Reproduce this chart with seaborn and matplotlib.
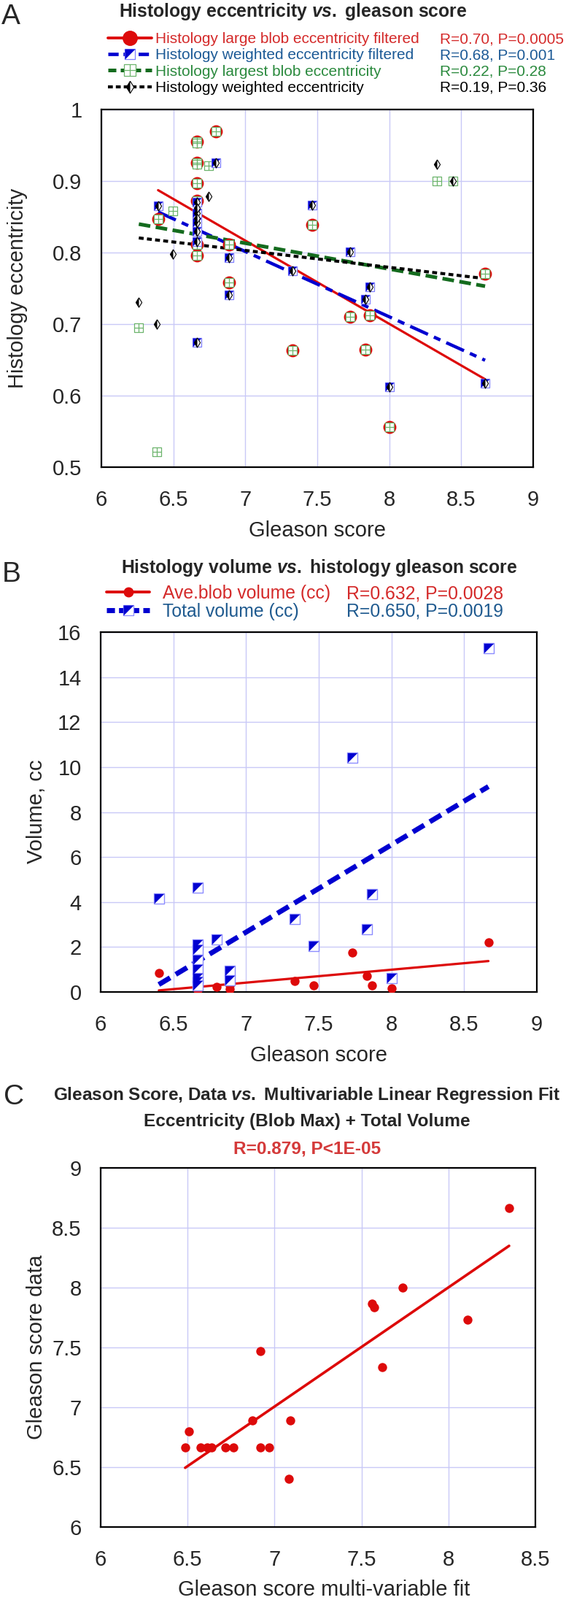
import numpy as np
import matplotlib
matplotlib.use("Agg")
import matplotlib.pyplot as plt
import matplotlib.ticker as mticker
from matplotlib.lines import Line2D
from matplotlib.legend_handler import HandlerTuple
import seaborn as sns

# ---- panel A: histology eccentricity vs gleason score ----
gleason_filt = [6.394, 6.663, 6.663, 6.663, 6.663, 6.663, 6.663, 6.794, 6.886, 6.886,
                7.33, 7.465, 7.73, 7.833, 7.865, 8.0, 8.666]
blob_ecc_filt = [0.847, 0.955, 0.925, 0.897, 0.872, 0.811, 0.796, 0.969, 0.811, 0.758,
                 0.663, 0.839, 0.710, 0.664, 0.712, 0.556, 0.770]
weighted_ecc_filt = [0.865, 0.870, 0.855, 0.842, 0.830, 0.815, 0.674, 0.925, 0.793, 0.741,
                     0.774, 0.866, 0.801, 0.735, 0.752, 0.612, 0.617]
# unfiltered sets: the filtered samples plus the ones the filter dropped
gleason_all = gleason_filt + [6.26, 6.383, 6.496, 6.746, 8.333, 8.443, 6.663, 6.663]
blob_ecc_all = blob_ecc_filt + [0.695, 0.521, 0.858, 0.921, 0.900, 0.900, 0.953, 0.923]
weighted_ecc_all = weighted_ecc_filt + [0.731, 0.700, 0.798, 0.879, 0.923, 0.900, 0.862, 0.848]
labels_a = ["Histology large blob eccentricity filtered",
            "Histology weighted eccentricity filtered",
            "Histology largest blob eccentricity",
            "Histology weighted eccentricity"]
stats_a = ["R=0.70, P=0.0005", "R=0.68, P=0.001", "R=0.22, P=0.28", "R=0.19, P=0.36"]

# ---- panel B: volume vs gleason score ----
gleason_b = [6.4, 6.667, 6.667, 6.667, 6.667, 6.667, 6.667, 6.667, 6.667, 6.8,
             6.889, 6.889, 7.333, 7.467, 7.733, 7.833, 7.867, 8.0, 8.667]
total_vol = [4.14, 4.63, 2.12, 1.88, 1.42, 1.0, 0.62, 0.45, 0.3, 2.34,
             0.95, 0.52, 3.25, 2.03, 10.41, 2.79, 4.36, 0.63, 15.29]
ave_blob_vol = [0.84, 0.09, 0.15, 0.2, 0.25, 0.3, 0.2, 0.25, 0.23, 0.22,
                0.14, 0.3, 0.5, 0.3, 1.76, 0.73, 0.3, 0.17, 2.22]
labels_b = ["Ave.blob volume (cc)", "Total volume (cc)"]
stats_b = ["R=0.632, P=0.0028", "R=0.650, P=0.0019"]

# ---- panel C: gleason data vs multivariable fit ----
fit_c = [6.486, 6.509, 6.576, 6.612, 6.639, 6.717, 6.765, 6.874, 6.917, 6.919,
         6.968, 7.090, 7.083, 7.56, 7.574, 7.621, 7.736, 8.11, 8.349]
data_c = [6.667, 6.8, 6.667, 6.667, 6.667, 6.667, 6.667, 6.889, 7.467, 6.667,
          6.667, 6.889, 6.4, 7.867, 7.833, 7.333, 8.0, 7.733, 8.667]

sns.set_style("white")
plt.rcParams["font.family"] = ["Liberation Sans", "DejaVu Sans"]
plt.rcParams["mathtext.fontset"] = "custom"
plt.rcParams["mathtext.it"] = "Liberation Sans:italic:bold"
plt.rcParams["mathtext.rm"] = "Liberation Sans:bold"

W, H = 776, 2192
fig = plt.figure(figsize=(W / 100, H / 100), dpi=100)


def ftext(px, py, s, **kw):
    return fig.text(px / W, 1 - py / H, s, **kw)


def make_ax(left, right, top, bottom):
    ax = fig.add_axes([left / W, 1 - bottom / H, (right - left) / W, (bottom - top) / H])
    ax.grid(True, color="#c9c9f7", lw=1.0)
    ax.set_axisbelow(True)
    for sp in ax.spines.values():
        sp.set_color("black")
        sp.set_linewidth(1.6)
    ax.tick_params(axis="both", direction="out", length=8, width=1.1, labelsize=21,
                   color="black")
    ax.tick_params(axis="x", pad=14)
    ax.tick_params(axis="y", pad=11)
    ax.xaxis.set_major_formatter(mticker.FormatStrFormatter("%g"))
    ax.yaxis.set_major_formatter(mticker.FormatStrFormatter("%g"))
    return ax


def two_col_legend(ax, handles, labels, stats, colors, x_hand, x_stat, top, size,
                   hlen, hpad, lspace):
    common = dict(loc="upper left", bbox_transform=fig.transFigure, frameon=False,
                  fontsize=size, labelspacing=lspace, borderpad=0, borderaxespad=0)
    leg = ax.legend(handles, labels, handler_map={tuple: HandlerTuple(ndivide=1)},
                    bbox_to_anchor=(x_hand / W, 1 - top / H),
                    handlelength=hlen, handletextpad=hpad, **common)
    for t, c in zip(leg.get_texts(), colors):
        t.set_color(c)
    ax.add_artist(leg)
    blanks = [Line2D([], [], alpha=0) for _ in stats]
    leg2 = ax.legend(blanks, stats, bbox_to_anchor=(x_stat / W, 1 - top / H),
                     handlelength=0, handletextpad=0, **common)
    for t, c in zip(leg2.get_texts(), colors):
        t.set_color(c)
    return leg, leg2


SQ = [(-1, -1), (1, -1), (1, 1), (-1, 1), (-1, -1)]
TRI_UL = [(-1, -1), (-1, 1), (1, 1), (-1, -1)]
DIAM = [(0, 1), (0.62, 0), (0, -1), (-0.62, 0), (0, 1)]
DIAM_L = [(0, 1), (-0.62, 0), (0, -1), (0, 1)]

RED = "#dd0a0a"
BLUE = "#0000d0"
GREEN = "#146b1e"
LGREEN = "#6cb46c"

# ================= panel A =================
axA = make_ax(139, 731, 150, 640)
sns.regplot(x=np.array(gleason_filt), y=np.array(blob_ecc_filt), ax=axA, scatter=False, ci=None,
            line_kws=dict(color=RED, lw=2.3, zorder=2))
sns.regplot(x=np.array(gleason_filt), y=np.array(weighted_ecc_filt), ax=axA, scatter=False, ci=None,
            line_kws=dict(color=BLUE, lw=3.2, dashes=(6, 2, 2.2, 2), zorder=2))
sns.regplot(x=np.array(gleason_all), y=np.array(blob_ecc_all), ax=axA, scatter=False, ci=None,
            line_kws=dict(color=GREEN, lw=3.6, dashes=(3.2, 1.5), zorder=2))
sns.regplot(x=np.array(gleason_all), y=np.array(weighted_ecc_all), ax=axA, scatter=False, ci=None,
            line_kws=dict(color="black", lw=3.0, dashes=(1.6, 1.1), zorder=2))

sns.scatterplot(x=gleason_filt, y=blob_ecc_filt, ax=axA, marker="o", s=165, color=RED,
                edgecolor=RED, linewidth=0, zorder=3)
sns.scatterplot(x=gleason_all, y=blob_ecc_all, ax=axA, marker="s", s=80, color="white",
                edgecolor=LGREEN, linewidth=0.9, zorder=4)
sns.scatterplot(x=gleason_all, y=blob_ecc_all, ax=axA, marker="+", s=80, color=LGREEN,
                linewidth=0.9, zorder=4)
sns.scatterplot(x=gleason_filt, y=weighted_ecc_filt, ax=axA, marker=SQ, s=70, color="white",
                edgecolor="#7f7fff", linewidth=0.9, zorder=5)
sns.scatterplot(x=gleason_filt, y=weighted_ecc_filt, ax=axA, marker=TRI_UL, s=70, color=BLUE,
                edgecolor=BLUE, linewidth=0, zorder=5)
sns.scatterplot(x=gleason_all, y=weighted_ecc_all, ax=axA, marker=DIAM, s=90, color="white",
                edgecolor="black", linewidth=0.8, zorder=6)
sns.scatterplot(x=gleason_all, y=weighted_ecc_all, ax=axA, marker=DIAM_L, s=90, color="black",
                edgecolor="black", linewidth=0, zorder=6)

axA.set_xlim(6, 9)
axA.set_ylim(0.5, 1)
axA.set_xticks(np.arange(6, 9.01, 0.5))
axA.set_yticks(np.arange(0.5, 1.001, 0.1))
axA.set_xlabel("")
axA.set_ylabel("")

hA = [
    (Line2D([], [], color=RED, lw=2.8),
     Line2D([], [], ls="none", marker="o", ms=14, mfc=RED, mec=RED)),
    (Line2D([], [], color=BLUE, lw=3.4, dashes=(3, 1.4)),
     Line2D([], [], ls="none", marker=SQ, ms=10, mfc="white", mec="#7f7fff", mew=0.9),
     Line2D([], [], ls="none", marker=TRI_UL, ms=10, mfc=BLUE, mec=BLUE, mew=0)),
    (Line2D([], [], color=GREEN, lw=3.6, dashes=(2.2, 1.2)),
     Line2D([], [], ls="none", marker="s", ms=11, mfc="white", mec=LGREEN, mew=0.9),
     Line2D([], [], ls="none", marker="+", ms=11, mec=LGREEN, mew=0.9)),
    (Line2D([], [], color="black", lw=3.0, dashes=(1.6, 1.0)),
     Line2D([], [], ls="none", marker=DIAM, ms=12, mfc="white", mec="black", mew=0.8),
     Line2D([], [], ls="none", marker=DIAM_L, ms=12, mfc="black", mec="black", mew=0)),
]
colors_a = ["#d42a2a", "#1c5a96", "#2b8a3e", "black"]
two_col_legend(axA, hA, labels_a, stats_a, colors_a, 148, 603, 44, 15,
               2.9, 0.2, 0.16)

ftext(2, 33, "A", fontsize=28, va="baseline")
ftext(402, 23, r"Histology eccentricity $\it{vs.}$ gleason score", fontsize=17.8,
      fontweight="bold", ha="center", va="baseline")
ftext(435, 735, "Gleason score", fontsize=21, ha="center", va="baseline")
ftext(24, 395, "Histology eccentricity", fontsize=21, ha="center", va="center", rotation=90)

# ================= panel B =================
axB = make_ax(138, 736, 866, 1359)
sns.regplot(x=np.array(gleason_b), y=np.array(ave_blob_vol), ax=axB, scatter=False, ci=None,
            line_kws=dict(color=RED, lw=2.3, zorder=2))
sns.regplot(x=np.array(gleason_b), y=np.array(total_vol), ax=axB, scatter=False, ci=None,
            line_kws=dict(color=BLUE, lw=5.0, dashes=(2.6, 1.3), zorder=2))
sns.scatterplot(x=gleason_b, y=ave_blob_vol, ax=axB, marker="o", s=80, color=RED,
                edgecolor=RED, linewidth=0, zorder=3)
sns.scatterplot(x=gleason_b, y=total_vol, ax=axB, marker=SQ, s=90, color="white",
                edgecolor="#8c8cff", linewidth=1.0, zorder=4)
sns.scatterplot(x=gleason_b, y=total_vol, ax=axB, marker=TRI_UL, s=90, color=BLUE,
                edgecolor=BLUE, linewidth=0, zorder=4)
axB.set_xlim(6, 9)
axB.set_ylim(0, 16)
axB.set_xticks(np.arange(6, 9.01, 0.5))
axB.set_yticks(np.arange(0, 16.1, 2))
axB.set_xlabel("")
axB.set_ylabel("")

hB = [
    (Line2D([], [], color=RED, lw=2.8),
     Line2D([], [], ls="none", marker="o", ms=9, mfc=RED, mec=RED)),
    (Line2D([], [], color=BLUE, lw=5.0, dashes=(1.6, 0.8)),
     Line2D([], [], ls="none", marker=SQ, ms=10, mfc="white", mec="#8c8cff", mew=0.9),
     Line2D([], [], ls="none", marker=TRI_UL, ms=10, mfc=BLUE, mec=BLUE, mew=0)),
]
colors_b = ["#d42a2a", "#1f5a8f"]
two_col_legend(axB, hB, labels_b, stats_b, colors_b, 146, 475, 801, 17.8,
               2.4, 0.7, 0.04)

ftext(3, 797, "B", fontsize=28, va="baseline")
ftext(438, 785, r"Histology volume $\it{vs.}$ histology gleason score", fontsize=17.8,
      fontweight="bold", ha="center", va="baseline")
ftext(437, 1454, "Gleason score", fontsize=21, ha="center", va="baseline")
ftext(50, 1112, "Volume, cc", fontsize=21, ha="center", va="center", rotation=90)

# ================= panel C =================
axC = make_ax(138, 734, 1600, 2092)
sns.regplot(x=np.array(fit_c), y=np.array(data_c), ax=axC, scatter=False, ci=None,
            line_kws=dict(color=RED, lw=2.6, zorder=2))
sns.scatterplot(x=fit_c, y=data_c, ax=axC, marker="o", s=80, color=RED,
                edgecolor=RED, linewidth=0, zorder=3)
axC.set_xlim(6, 8.5)
axC.set_ylim(6, 9)
axC.set_xticks(np.arange(6, 8.51, 0.5))
axC.set_yticks(np.arange(6, 9.01, 0.5))
axC.set_xlabel("")
axC.set_ylabel("")

ftext(5, 1513, "C", fontsize=28, va="baseline")
ftext(421, 1507, r"Gleason Score, Data $\it{vs.}$ Multivariable Linear Regression Fit",
      fontsize=17.6, fontweight="bold", ha="center", va="baseline")
ftext(421, 1543, "Eccentricity (Blob Max) + Total Volume", fontsize=17.6,
      fontweight="bold", ha="center", va="baseline")
ftext(421, 1580, "R=0.879, P<1E-05", fontsize=17.6, fontweight="bold", color="#d43a3a",
      ha="center", va="baseline")
ftext(444, 2186, "Gleason score multi-variable fit", fontsize=21, ha="center", va="baseline")
ftext(50, 1846, "Gleason score data", fontsize=21, ha="center", va="center", rotation=90)

fig.savefig("out.png", dpi=100)
